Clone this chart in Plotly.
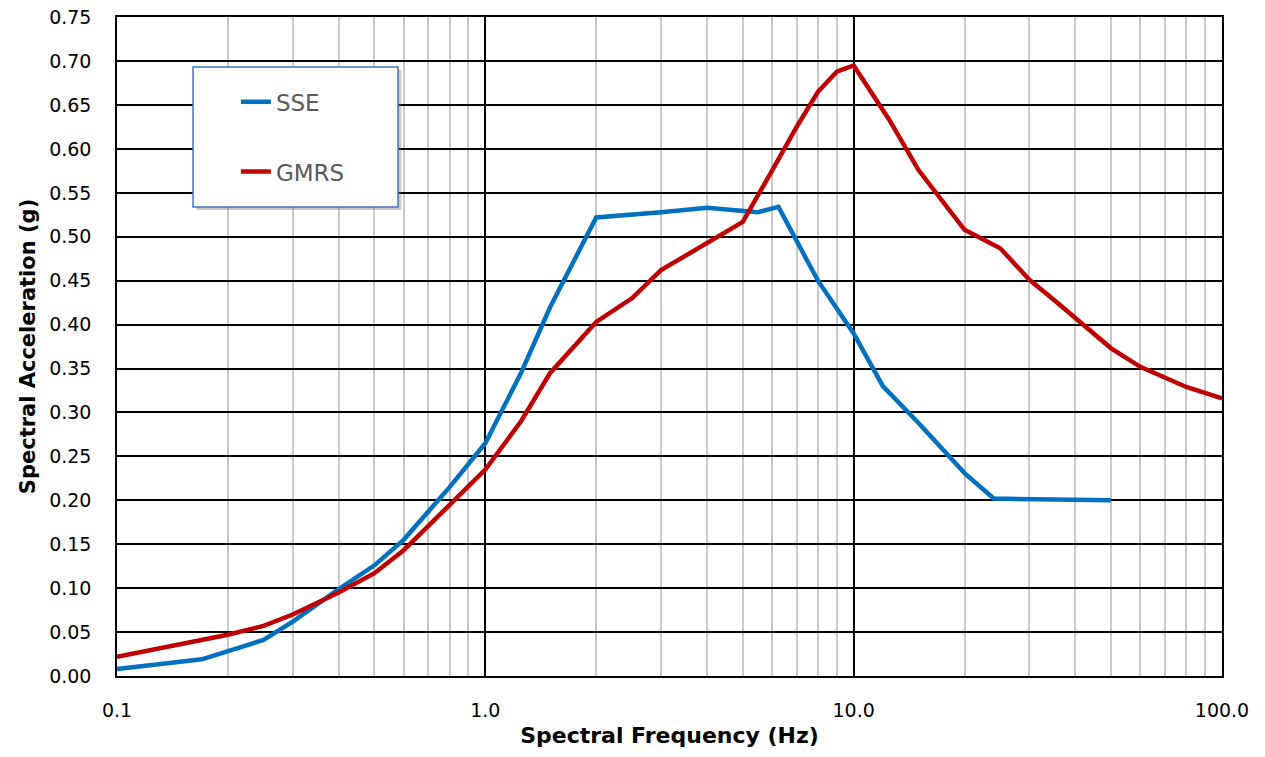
import plotly.graph_objects as go

# SSE spectrum
sse_freq = [0.1, 0.17, 0.25, 0.3, 0.4, 0.5, 0.6, 0.8, 1.0, 1.25, 1.5, 2.0, 3.0, 4.0, 5.5, 6.25, 8.0, 10.0, 12.0, 15.0, 20.0, 24.0, 50.0]
sse_acc = [0.008, 0.019, 0.041, 0.062, 0.099, 0.126, 0.155, 0.215, 0.265, 0.345, 0.42, 0.522, 0.528, 0.533, 0.528, 0.534, 0.45, 0.39, 0.33, 0.288, 0.231, 0.202, 0.200]

# GMRS spectrum
gmrs_freq = [0.1, 0.2, 0.25, 0.3, 0.4, 0.5, 0.6, 1.0, 1.25, 1.5, 2.0, 2.5, 3.0, 3.5, 4.0, 5.0, 6.0, 7.0, 8.0, 9.0, 10.0, 12.5, 15.0, 20.0, 25.0, 30.0, 35.0, 50.0, 60.0, 80.0, 100.0]
gmrs_acc = [0.022, 0.047, 0.057, 0.07, 0.095, 0.117, 0.143, 0.235, 0.29, 0.345, 0.403, 0.430, 0.462, 0.479, 0.493, 0.517, 0.575, 0.625, 0.665, 0.688, 0.695, 0.633, 0.576, 0.508, 0.487, 0.451, 0.428, 0.373, 0.352, 0.329, 0.316]

x_ticks = [0.1, 1.0, 10.0, 100.0]
x_tick_text = ["0.1", "1.0", "10.0", "100.0"]
x_minor = [m * d for d in (0.1, 1.0, 10.0) for m in range(2, 10)]
y_ticks = [round(i * 0.05, 2) for i in range(16)]
y_tick_text = ["%.2f" % v for v in y_ticks]

fig = go.Figure()
fig.add_trace(go.Scatter(x=sse_freq, y=sse_acc, mode="lines", name="SSE",
                         legendgroup="a", line=dict(color="#0070C0", width=4.5)))
fig.add_trace(go.Scatter(x=gmrs_freq, y=gmrs_acc, mode="lines", name="GMRS",
                         legendgroup="b", line=dict(color="#C00000", width=4.5)))

# legend box with shadow
fig.add_shape(type="rect", xref="paper", yref="paper", x0=0.072, x1=0.2573, y0=0.7072, y1=0.9195,
              line=dict(width=0), fillcolor="rgba(120,120,120,0.4)", layer="above")
fig.add_shape(type="rect", xref="paper", yref="paper", x0=0.0688, x1=0.2543, y0=0.7117, y1=0.924,
              line=dict(color="#4472C4", width=1.5), fillcolor="white", layer="above")

fig.update_layout(
    width=1265, height=757,
    margin=dict(l=117, r=43, t=17, b=81, autoexpand=False),
    paper_bgcolor="white", plot_bgcolor="white",
    font=dict(family="DejaVu Sans", color="black"),
    showlegend=True,
    legend=dict(x=0.1076, y=0.904, xanchor="left", yanchor="top", bgcolor="rgba(0,0,0,0)",
                borderwidth=0, tracegroupgap=37,
                font=dict(family="DejaVu Sans", size=23, color="#595959")),
    xaxis=dict(type="log", range=[-1, 2], tickvals=x_ticks, ticktext=x_tick_text,
               showgrid=True, gridcolor="black", gridwidth=1.5,
               minor=dict(tickvals=x_minor, showgrid=True, gridcolor="#C8C8C8", gridwidth=1.5, ticks=""),
               showline=True, linecolor="black", linewidth=1.5, mirror=True,
               ticks="outside", ticklen=16, tickcolor="rgba(0,0,0,0)", automargin=False,
               tickfont=dict(size=19, family="DejaVu Sans"),
               title=dict(text="<b>Spectral Frequency (Hz)</b>", font=dict(family="DejaVu Sans", size=22), standoff=8),
               zeroline=False),
    yaxis=dict(range=[0, 0.7502], tickvals=y_ticks, ticktext=y_tick_text,
               showgrid=True, gridcolor="black", gridwidth=1.5,
               showline=True, linecolor="black", linewidth=1.5, mirror=True,
               ticks="outside", ticklen=20, tickcolor="rgba(0,0,0,0)", automargin=False,
               tickfont=dict(size=19, family="DejaVu Sans"),
               title=dict(text="<b>Spectral Acceleration (g)</b>", font=dict(family="DejaVu Sans", size=21), standoff=8),
               zeroline=False),
)

fig.write_html("out.html", config={"displayModeBar": False},
               post_script="document.body.style.margin='0';")
